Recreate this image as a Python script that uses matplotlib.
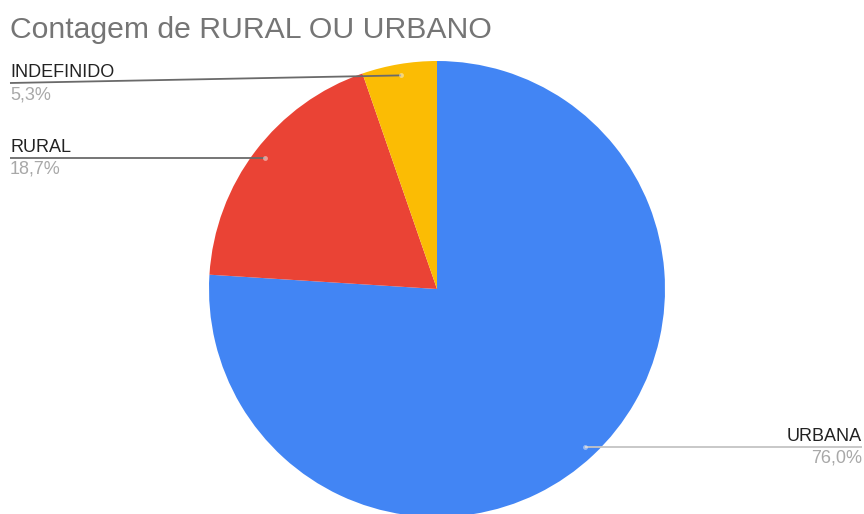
import numpy as np
import matplotlib
matplotlib.use("Agg")
import matplotlib.pyplot as plt

# ---- data ----
categories = ["URBANA", "RURAL", "INDEFINIDO"]
values = [76.0, 18.7, 5.3]
colors = ["#4285F4", "#EA4335", "#FBBC04"]
title = "Contagem de RURAL OU URBANO"

W, H = 864, 514
plt.rcParams['font.family'] = ['Liberation Sans', 'DejaVu Sans']

fig = plt.figure(figsize=(W / 100, H / 100), dpi=100)
ax = fig.add_axes([0, 0, 1, 1])

def py(y):  # pixel-from-top -> data y
    return H - y

cx, cy, r = 437, py(289), 228
wedges, _ = ax.pie(values, colors=colors, startangle=90, counterclock=False,
                   center=(cx, cy), radius=r, frame=True,
                   wedgeprops=dict(linewidth=0))
ax.set_xlim(0, W)
ax.set_ylim(0, H)
ax.set_aspect('equal')
ax.axis('off')

ax.text(10, py(38), title, fontsize=21.7, color="#757575", ha='left', va='baseline')

min_line_y = 83  # pixel from top (labels kept below title)
for w, cat, val in zip(wedges, categories, values):
    mid = np.deg2rad((w.theta1 + w.theta2) / 2)
    dx = cx + 0.95 * r * np.cos(mid)
    dy = cy + 0.95 * r * np.sin(mid)
    dy_pix = H - dy
    line_pix = max(dy_pix, min_line_y)
    ly = py(line_pix)
    if np.cos(mid) >= 0:
        x_end = W - 2
        ha = 'right'
        lc = '#c4c4c4'
    else:
        x_end = 10
        ha = 'left'
        lc = '#6a6a6a'
    ax.plot([dx, x_end], [dy, ly], color=lc, lw=1.3, solid_capstyle='butt', zorder=3)
    ax.plot([dx], [dy], marker='o', ms=3.5, color='#f2f2f2', alpha=0.5, mew=0, zorder=4)
    ax.text(x_end, py(line_pix - 6), cat, fontsize=13, color="#222222",
            ha=ha, va='baseline')
    ax.text(x_end, py(line_pix + 16), f"{val:.1f}%".replace('.', ','), fontsize=13,
            color="#a8a8a8", ha=ha, va='baseline')

fig.savefig("out.png", dpi=100)
